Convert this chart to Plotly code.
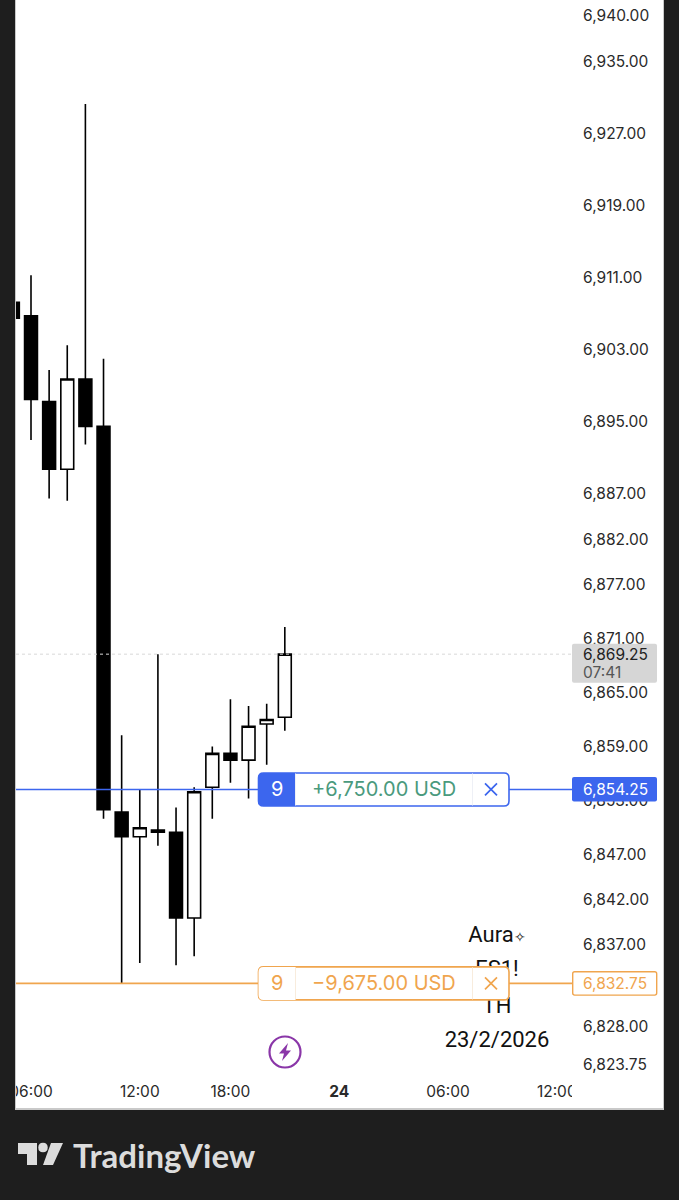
import plotly.graph_objects as go

W, H = 679, 1200

bar_index = list(range(16))
opens = [6908.25, 6906.75, 6897.25, 6889.75, 6899.75, 6894.5, 6851.75, 6849.0, 6849.75, 6849.5, 6840.0, 6854.5, 6858.25, 6857.5, 6861.5, 6862.25]
highs = [6908.25, 6911.25, 6900.75, 6903.5, 6930.25, 6902.0, 6860.25, 6854.25, 6869.25, 6852.25, 6854.5, 6859.0, 6864.25, 6863.5, 6863.75, 6872.25]
lows = [6906.5, 6893.0, 6886.5, 6886.25, 6892.5, 6851.0, 6832.75, 6835.0, 6848.0, 6834.75, 6835.75, 6851.0, 6855.0, 6853.25, 6857.0, 6860.75]
closes = [6906.5, 6897.5, 6889.75, 6899.75, 6894.5, 6852.0, 6849.0, 6850.0, 6849.5, 6840.0, 6854.0, 6858.25, 6857.5, 6861.25, 6862.0, 6869.25]

time_tick_index = [1, 7, 12, 18, 24, 30]
time_tick_labels = ["06:00", "12:00", "18:00", "<b>24</b>", "06:00", "12:00"]
price_ticks = [6940, 6935, 6927, 6919, 6911, 6903, 6895, 6887, 6882, 6877, 6871, 6865,
               6859, 6853, 6847, 6842, 6837, 6828, 6823.75]
price_labels = [f"{p:,.2f}" for p in price_ticks]

last_price = 6869.25
take_profit = 6854.25
stop_loss = 6832.75
countdown = "07:41"
qty = "9"
tp_text = "+6,750.00 USD"
sl_text = "−9,675.00 USD"
watermark = [("Aura<span style='font-size:14px'>✧</span>", 6838.0), ("ES1!", 6834.2), ("TH", 6830.1), ("23/2/2026", 6826.3)]

DARK = "#1e1e1e"
BLUE = "#3c66ee"
ORANGE = "#f0a54e"
GREEN = "#4a9a7d"
PURPLE = "#8a36a8"
FONT = "Inter"

PANE_L, PANE_R, PANE_B = 16, 572, 1075
PX_PER_BAR = 18.13
PX_PER_USD = 9.02


def px(v):
    return v / W


def py(v):
    return 1 - v / H


def rrect(x0, y0, x1, y1, r):
    return (f"M{x0+r},{y0} L{x1-r},{y0} Q{x1},{y0} {x1},{y0+r} L{x1},{y1-r} Q{x1},{y1} {x1-r},{y1} "
            f"L{x0+r},{y1} Q{x0},{y1} {x0},{y1-r} L{x0},{y0+r} Q{x0},{y0} {x0+r},{y0} Z")


def left_rrect(x0, y0, x1, y1, r):
    return (f"M{x0+r},{y0} L{x1},{y0} L{x1},{y1} L{x0+r},{y1} Q{x0},{y1} {x0},{y1-r} "
            f"L{x0},{y0+r} Q{x0},{y0} {x0+r},{y0} Z")


def anchored(price, left, path, fill=None, color=None, width=0, layer="above"):
    return dict(type="path", xref="paper", yref="y", xsizemode="pixel", ysizemode="pixel",
                xanchor=px(left), yanchor=price, path=path, layer=layer,
                fillcolor=fill or "rgba(0,0,0,0)",
                line=dict(color=color or "rgba(0,0,0,0)", width=width))


def paper_rect(x0, y0, x1, y1, fill, layer):
    return dict(type="rect", xref="paper", yref="paper", x0=px(x0), x1=px(x1), y0=py(y1), y1=py(y0),
                fillcolor=fill, line_width=0, layer=layer)


def level_line(price, color, dash="solid", width=1.6):
    return dict(type="line", xref="paper", yref="y", x0=px(PANE_L), x1=px(PANE_R), y0=price, y1=price,
                line=dict(color=color, width=width, dash=dash), layer="above")


def paper_path(left, top, path, fill=None, color=None, width=0):
    return dict(type="path", xref="paper", yref="paper", xsizemode="pixel", ysizemode="pixel",
                xanchor=px(left), yanchor=py(top), path=path, layer="above",
                fillcolor=fill or "rgba(0,0,0,0)",
                line=dict(color=color or "rgba(0,0,0,0)", width=width))


shapes = [
    paper_rect(15, 0, 664, 1110, "#c9c9c9", "below"),
    paper_rect(16, 0, 663, 1108, "#ffffff", "below"),
    level_line(last_price, "#d8d8d8", "dot", 1),
    level_line(take_profit, BLUE),
    level_line(stop_loss, ORANGE),
]


def tag(price, border, first_fill, sep):
    return [
        anchored(price, 258.5, rrect(0, -16.5, 250.5, 16.5, 5), "#ffffff", border, 1.6),
        anchored(price, 258.5, left_rrect(0, -16.5, 37, 16.5, 5), first_fill),
        anchored(price, 295.5, "M0,-16 L0,16", None, sep, 1),
        anchored(price, 472.5, "M0,-16 L0,16", None, sep, 1),
        anchored(price, 491, "M-6,-6 L6,6 M-6,6 L6,-6", None, border, 1.7),
    ]


shapes += tag(take_profit, BLUE, BLUE, "#eef0f6")
shapes += tag(stop_loss, ORANGE, "#ffffff", "#f8ecdd")
shapes += [
    anchored(last_price, 572, rrect(0, -28.5, 85, 10.5, 2), "#d6d6d6"),
    anchored(take_profit, 572, rrect(0, -12, 85, 12.5, 2), BLUE),
    anchored(stop_loss, 572.7, rrect(0, -11.7, 84, 11.7, 2), "#ffffff", ORANGE, 1.4),
    # clipping of the time scale
    paper_rect(0, 0, 15, 1200, DARK, "above"),
    paper_rect(15, 0, 16, 1110, "#c9c9c9", "above"),
    paper_rect(572, 1076, 663, 1108, "#ffffff", "above"),
    # lightning badge
    dict(type="circle", xref="paper", yref="paper", xsizemode="pixel", ysizemode="pixel",
         xanchor=px(285), yanchor=py(1052), x0=-15.5, x1=15.5, y0=-15.5, y1=15.5,
         line=dict(color=PURPLE, width=2.2), fillcolor="#ffffff", layer="above"),
    paper_path(285, 1052, "M3,9 L-6,-1.5 L-1,-1.5 L-3,-9 L6,1.5 L1,1.5 Z", PURPLE),
    # TradingView mark
    paper_path(18, 1154, "M0,11 L19,11 L19,-11 L9,-11 L9,0 L0,0 Z", "#dcdcdc"),
    paper_path(43, 1147.5, "M-4.7,0 Q-4.7,4.7 0,4.7 Q4.7,4.7 4.7,0 Q4.7,-4.7 0,-4.7 Q-4.7,-4.7 -4.7,0 Z", "#dcdcdc"),
    paper_path(43, 1154, "M8,11 L20,11 L10,-11 L0,-11 Z", "#dcdcdc"),
]

fig = go.Figure()
fig.add_trace(go.Candlestick(
    x=bar_index, open=opens, high=highs, low=lows, close=closes,
    increasing=dict(fillcolor="#ffffff", line=dict(color="#000000", width=1.6)),
    decreasing=dict(fillcolor="#000000", line=dict(color="#000000", width=1.6)),
    whiskerwidth=0, hoverinfo="skip", showlegend=False,
))
wm_x = 1 + (497 - 31) / PX_PER_BAR
fig.add_trace(go.Scatter(
    x=[wm_x] * len(watermark), y=[v for _, v in watermark], text=[t for t, _ in watermark],
    mode="text", textposition="middle center",
    textfont=dict(family="Roboto", size=22, color="#111111"),
    hoverinfo="skip", showlegend=False,
))


def note(left, price, text, color, size=15.5, anchor="left", yshift=0):
    return dict(xref="paper", yref="y", x=px(left), y=price, text=text, showarrow=False,
                xanchor=anchor, yanchor="middle", yshift=yshift,
                font=dict(family=FONT, size=size, color=color))


annotations = [
    note(277, take_profit, qty, "#ffffff", 20, "center"),
    note(384, take_profit, tp_text, GREEN, 20, "center"),
    note(277, stop_loss, qty, ORANGE, 20, "center"),
    note(384, stop_loss, sl_text, ORANGE, 20, "center"),
    note(581, take_profit, f"{take_profit:,.2f}", "#ffffff"),
    note(581, stop_loss, f"{stop_loss:,.2f}", ORANGE),
    note(581, last_price, f"{last_price:,.2f}", "#222222"),
    note(581, last_price, countdown, "#555555", yshift=-18),
    dict(xref="paper", yref="paper", x=px(71), y=py(1155), text="TradingView", showarrow=False,
         xanchor="left", yanchor="middle",
         font=dict(family="Lato", size=33, color="#dcdcdc", weight=700)),
]

x_lo = 1 + (PANE_L - 31) / PX_PER_BAR
x_hi = 1 + (PANE_R - 31) / PX_PER_BAR
y_hi = 6940 + 16 / PX_PER_USD
y_lo = 6940 - (PANE_B - 16) / PX_PER_USD

fig.update_layout(
    width=W, height=H, margin=dict(l=0, r=0, t=0, b=0),
    paper_bgcolor=DARK, plot_bgcolor="#ffffff", showlegend=False,
    boxgap=0.29, boxgroupgap=0,
    shapes=shapes, annotations=annotations,
    xaxis=dict(domain=[px(PANE_L), px(PANE_R)], range=[x_lo, x_hi], tickmode="array", automargin=False,
               tickvals=time_tick_index, ticktext=time_tick_labels, showgrid=False, zeroline=False,
               rangeslider=dict(visible=False), ticks="outside", ticklen=2,
               tickcolor="rgba(0,0,0,0)", tickangle=0, showline=False, fixedrange=True,
               tickfont=dict(family=FONT, size=15.5, color="#2a2a2a")),
    yaxis=dict(domain=[py(PANE_B), 1], range=[y_lo, y_hi], side="right", tickmode="array", automargin=False,
               tickvals=price_ticks, ticktext=price_labels, showgrid=False, zeroline=False,
               ticks="outside", ticklen=7, tickcolor="rgba(0,0,0,0)", showline=False, fixedrange=True,
               tickfont=dict(family=FONT, size=15.5, color="#2a2a2a")),
)

fig.write_html("out.html", config=dict(displayModeBar=False),
               post_script="document.body.style.margin='0';document.body.style.overflow='hidden';")
